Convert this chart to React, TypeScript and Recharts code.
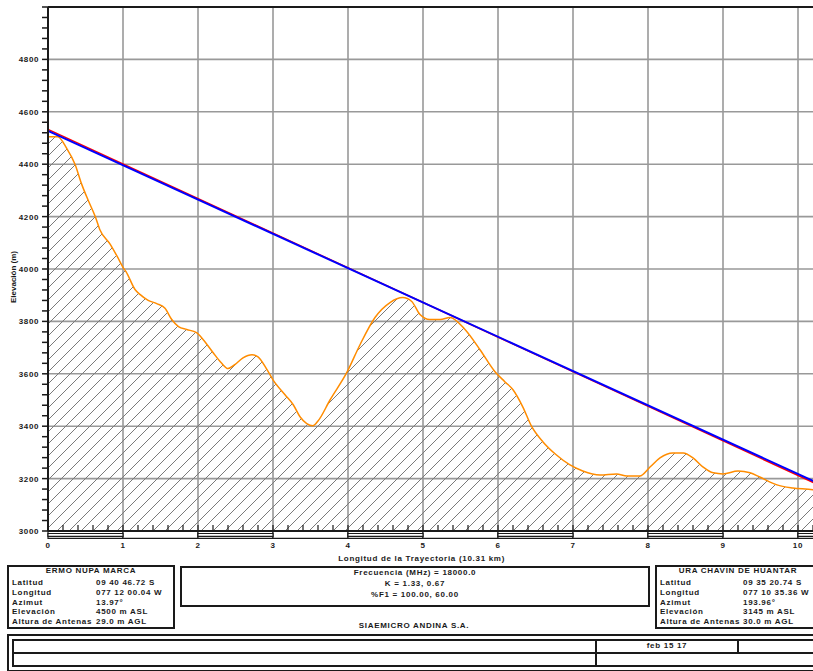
import React from "react";
import {
  ComposedChart,
  Area,
  Line,
  XAxis,
  YAxis,
  CartesianGrid,
  ReferenceLine,
  ReferenceArea,
} from "recharts";

// terrain profile
const distKm = [
  0, 0.13, 0.25, 0.36, 0.45, 0.53, 0.63, 0.69, 0.83, 0.93, 1.0, 1.04, 1.16, 1.23, 1.33, 1.45, 1.56,
  1.65, 1.74, 1.85, 1.98, 2.07, 2.2, 2.31, 2.4, 2.49, 2.6, 2.72, 2.8, 2.92, 3.0, 3.16, 3.27, 3.36,
  3.45, 3.53, 3.6, 3.76, 3.99, 4.16, 4.36, 4.56, 4.73, 4.85, 4.96, 5.09, 5.23, 5.36, 5.56, 5.76,
  5.96, 6.09, 6.2, 6.33, 6.45, 6.6, 6.78, 6.96, 7.13, 7.36, 7.58, 7.72, 7.89, 8.03, 8.16, 8.33,
  8.47, 8.6, 8.73, 8.87, 9.0, 9.2, 9.36, 9.49, 9.72, 9.93, 10.2, 10.31,
];
const terrainElev = [
  4505, 4505, 4460, 4400, 4323, 4266, 4200, 4151, 4094, 4044, 4006, 3990, 3922, 3902, 3881, 3868,
  3850, 3807, 3780, 3769, 3757, 3730, 3681, 3642, 3620, 3635, 3661, 3673, 3665, 3616, 3577, 3520,
  3482, 3436, 3410, 3402, 3420, 3500, 3608, 3711, 3815, 3872, 3891, 3876, 3826, 3807, 3807, 3815,
  3769, 3692, 3608, 3570, 3539, 3474, 3398, 3340, 3290, 3252, 3229, 3214, 3218, 3210, 3210, 3245,
  3279, 3298, 3298, 3279, 3245, 3222, 3218, 3229, 3222, 3206, 3176, 3164, 3157, 3145,
];

// line of sight for K = 1.33 (red) and K = 0.67 (blue)
const losKm = [0, 10.31];
const losRed = [4533, 3171];
const losBlue = [4527, 3177];

const xMajorTicks = [0, 1, 2, 3, 4, 5, 6, 7, 8, 9, 10];
const yMajorTicks = [3000, 3200, 3400, 3600, 3800, 4000, 4200, 4400, 4600, 4800];
const xMinorTicks = Array.from({ length: 52 }, (_, i) => +(i * 0.2).toFixed(1));
const yMinorTicks = Array.from({ length: 51 }, (_, i) => 3000 + i * 40);

const siteLabels = ["Latitud", "Longitud", "Azimut", "Elevación", "Altura de Antenas"];
const siteAName = "ERMO NUPA MARCA";
const siteAValues = ["09 40 46.72 S", "077 12 00.04 W", "13.97°", "4500 m ASL", "29.0 m AGL"];
const siteBName = "URA CHAVIN DE HUANTAR";
const siteBValues = ["09 35 20.74 S", "077 10 35.36 W", "193.96°", "3145 m ASL", "30.0 m AGL"];
const linkInfo = ["Frecuencia (MHz) = 18000.0", "K = 1.33, 0.67", "%F1 = 100.00, 60.00"];

const terrainData = distKm.map((km, i) => ({ km, elev: terrainElev[i] }));
const redData = losKm.map((km, i) => ({ km, los: losRed[i] }));
const blueData = losKm.map((km, i) => ({ km, los: losBlue[i] }));

const ink = "#1a1a1a";
const font = "'Liberation Sans', Arial, sans-serif";

const YTick = (props: any) => {
  const { x, y, payload } = props;
  if (!yMajorTicks.includes(payload.value)) return <g />;
  return (
    <text
      x={x}
      y={y}
      dy={3}
      textAnchor="end"
      fontSize={8}
      fontWeight="bold"
      letterSpacing={0.6}
      fill={ink}
      fontFamily={font}
    >
      {payload.value}
    </text>
  );
};

// x ticks: small mark pointing up into the plot, number only on whole km
const X_TICK_SIZE = 8;
const X_TICK_MARGIN = 3;
const XTick = (props: any) => {
  const { x, y, payload } = props;
  const axisY = y - X_TICK_SIZE - X_TICK_MARGIN;
  const whole = xMajorTicks.includes(payload.value);
  return (
    <g>
      <line x1={x} x2={x} y1={axisY} y2={axisY - 6} stroke={ink} strokeWidth={1.2} />
      {whole && (
        <text x={x} y={y} dy={6} textAnchor="middle" fontSize={8} fontWeight="bold" fill={ink} fontFamily={font}>
          {payload.value}
        </text>
      )}
    </g>
  );
};

const rowY = [583, 593, 603, 611.5, 621.5];

function T({ x, y, center, children }: { x: number; y: number; center?: boolean; children: React.ReactNode }) {
  return (
    <div
      style={{
        position: "absolute",
        left: x,
        top: y - 5,
        lineHeight: "10px",
        whiteSpace: "nowrap",
        transform: center ? "translateX(-50%)" : undefined,
      }}
    >
      {children}
    </div>
  );
}

function Box({ x, y, w, h }: { x: number; y: number; w: number; h: number }) {
  return (
    <div
      style={{
        position: "absolute",
        left: x,
        top: y,
        width: w,
        height: h,
        border: `2px solid ${ink}`,
        boxSizing: "border-box",
      }}
    />
  );
}

function SiteBox({ x, name, values, valueX }: { x: number; name: string; values: string[]; valueX: number }) {
  return (
    <>
      <Box x={x} y={565} w={x > 400 ? 200 : 168} h={64} />
      <T x={x > 400 ? 738 : 91} y={571} center>
        {name}
      </T>
      {siteLabels.map((l, i) => (
        <T key={l} x={x + 5} y={rowY[i]}>
          {l}
        </T>
      ))}
      {values.map((v, i) => (
        <T key={i} x={valueX} y={rowY[i]}>
          {v}
        </T>
      ))}
    </>
  );
}

export default function App() {
  return (
    <div
      style={{
        position: "absolute",
        left: 0,
        top: 0,
        width: 813,
        height: 671,
        overflow: "hidden",
        background: "#fff",
        fontFamily: font,
        fontSize: 8,
        fontWeight: "bold",
        letterSpacing: 0.7,
        color: ink,
      }}
    >
      <ComposedChart width={830} height={567} margin={{ top: 7, right: 8.75, bottom: 0, left: 0 }}>
        <defs>
          <pattern id="hatch" patternUnits="userSpaceOnUse" width="12" height="12">
            <path d="M-1,1 L1,-1 M0,12 L12,0 M11,13 L13,11" stroke="#7a7a7a" strokeWidth="1" />
          </pattern>
        </defs>
        <CartesianGrid
          xAxisId="main"
          yAxisId="main"
          horizontalValues={yMajorTicks}
          verticalValues={xMajorTicks}
          stroke="#999"
          strokeWidth={1.6}
        />
        <XAxis
          xAxisId="main"
          type="number"
          dataKey="km"
          domain={[0, 10.31]}
          ticks={xMinorTicks}
          interval={0}
          height={36}
          tickLine={false}
          tickSize={X_TICK_SIZE}
          tickMargin={X_TICK_MARGIN}
          tick={<XTick />}
          axisLine={{ stroke: ink, strokeWidth: 2 }}
          label={{
            content: (p: any) => {
              const vb = p.viewBox || { x: 48, y: 531, width: 773, height: 36 };
              return (
                <text
                  x={vb.x + vb.width / 2 - 13}
                  y={vb.y + 30}
                  textAnchor="middle"
                  fontSize={8}
                  fontWeight="bold"
                  letterSpacing={0.7}
                  fill={ink}
                  fontFamily={font}
                >
                  Longitud de la Trayectoria (10.31 km)
                </text>
              );
            },
          }}
        />
        <YAxis
          yAxisId="main"
          type="number"
          domain={[3000, 5000]}
          ticks={yMinorTicks}
          interval={0}
          width={48}
          tickSize={6}
          tickMargin={3}
          tick={<YTick />}
          tickLine={{ stroke: ink, strokeWidth: 1.5 }}
          axisLine={{ stroke: ink, strokeWidth: 2 }}
          label={{
            content: (p: any) => {
              const vb = p.viewBox || { x: 0, y: 7, width: 48, height: 524 };
              const cx = vb.x + 13;
              const cy = vb.y + vb.height / 2 + 8;
              return (
                <text
                  x={cx}
                  y={cy}
                  transform={`rotate(-90 ${cx} ${cy})`}
                  textAnchor="middle"
                  dominantBaseline="central"
                  fontSize={8}
                  fontWeight="bold"
                  letterSpacing={0}
                  fill={ink}
                  fontFamily={font}
                >
                  Elevación (m)
                </text>
              );
            },
          }}
        />
        <Area
          xAxisId="main"
          yAxisId="main"
          data={terrainData}
          dataKey="elev"
          type="monotone"
          stroke="#ff8c00"
          strokeWidth={1.5}
          fill="url(#hatch)"
          fillOpacity={1}
          dot={false}
          activeDot={false}
          isAnimationActive={false}
        />
        <Line
          xAxisId="main"
          yAxisId="main"
          data={redData}
          dataKey="los"
          type="linear"
          stroke="#ff0000"
          strokeWidth={1.5}
          dot={false}
          activeDot={false}
          isAnimationActive={false}
        />
        <Line
          xAxisId="main"
          yAxisId="main"
          data={blueData}
          dataKey="los"
          type="linear"
          stroke="#0000ff"
          strokeWidth={2}
          dot={false}
          activeDot={false}
          isAnimationActive={false}
        />
        <ReferenceLine xAxisId="main" yAxisId="main" y={5000} stroke={ink} strokeWidth={2} />
        {xMajorTicks.map((k) => (
          <ReferenceArea
            key={`s${k}`}
            xAxisId="main"
            yAxisId="main"
            x1={k}
            x2={Math.min(k + 1, 10.31)}
            y1={2971.5}
            y2={3000}
            ifOverflow="visible"
            fill="#fff"
            fillOpacity={1}
            stroke={ink}
            strokeWidth={1.2}
          />
        ))}
        {xMajorTicks
          .filter((k) => k % 2 === 0)
          .map((k) => (
            <ReferenceArea
              key={`d${k}`}
              xAxisId="main"
              yAxisId="main"
              x1={k}
              x2={Math.min(k + 1, 10.31)}
              y1={2979.5}
              y2={2990.5}
              ifOverflow="visible"
              fill="#fff"
              fillOpacity={1}
              stroke={ink}
              strokeWidth={1.2}
            />
          ))}
      </ComposedChart>

      <SiteBox x={7} name={siteAName} values={siteAValues} valueX={96} />
      <Box x={180} y={566} w={470} h={41} />
      {linkInfo.map((t, i) => (
        <T key={t} x={415} y={573 + i * 11} center>
          {t}
        </T>
      ))}
      <T x={414} y={626} center>
        SIAEMICRO ANDINA S.A.
      </T>
      <SiteBox x={655} name={siteBName} values={siteBValues} valueX={743} />

      <Box x={7} y={634} w={830} h={38} />
      <Box x={12} y={639} w={820} h={28} />
      <div style={{ position: "absolute", left: 12, top: 652, width: 820, height: 2, background: ink }} />
      <div style={{ position: "absolute", left: 595, top: 639, width: 2, height: 28, background: ink }} />
      <div style={{ position: "absolute", left: 737, top: 639, width: 2, height: 14, background: ink }} />
      <T x={667} y={646} center>
        feb 15 17
      </T>
    </div>
  );
}
